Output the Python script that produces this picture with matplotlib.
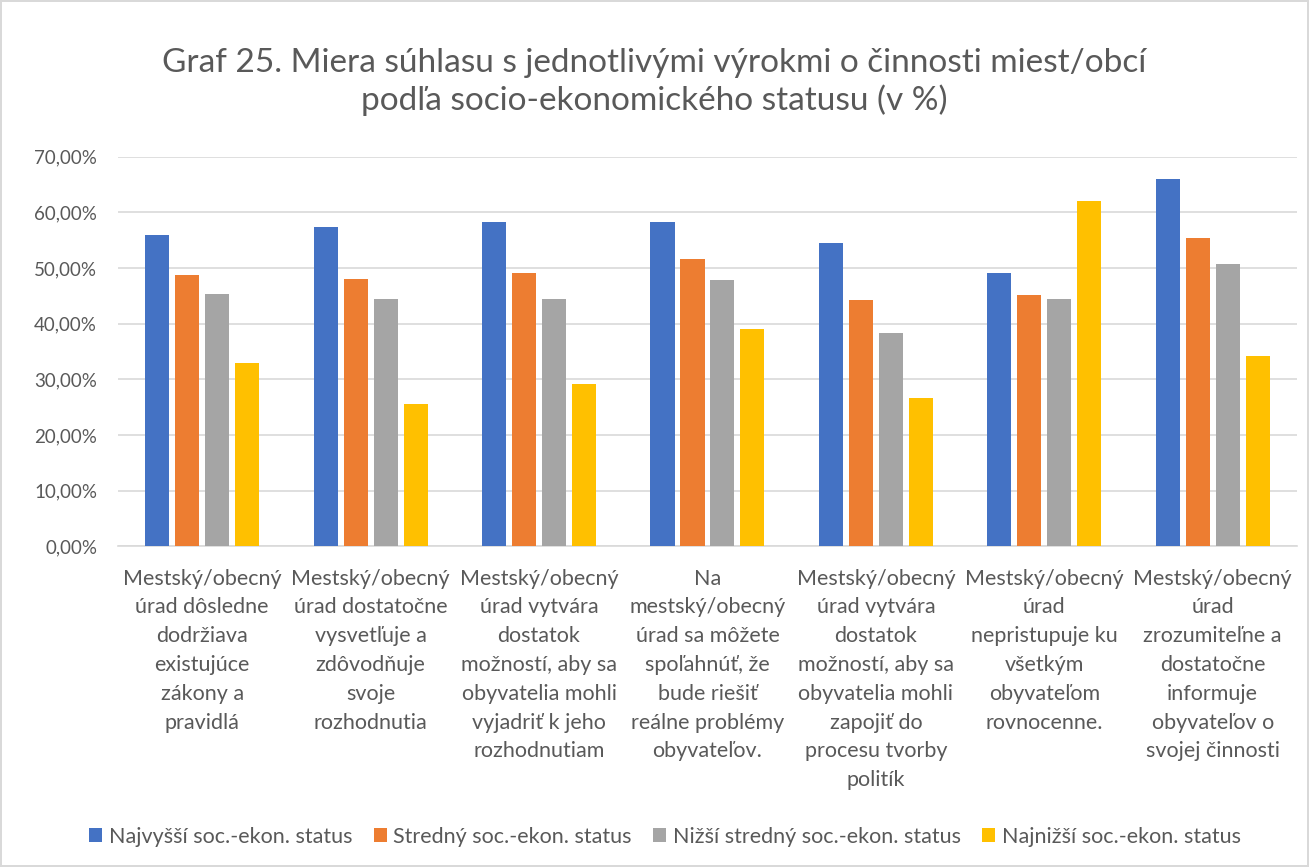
import matplotlib
matplotlib.use("Agg")
import matplotlib.pyplot as plt
import numpy as np

plt.rcParams["font.family"] = ["Lato", "DejaVu Sans"]

categories = [
    "Mestský/obecný\núrad dôsledne\ndodržiava\nexistujúce\nzákony a\npravidlá",
    "Mestský/obecný\núrad dostatočne\nvysvetľuje a\nzdôvodňuje\nsvoje\nrozhodnutia",
    "Mestský/obecný\núrad vytvára\ndostatok\nmožností, aby sa\nobyvatelia mohli\nvyjadriť k jeho\nrozhodnutiam",
    "Na\nmestský/obecný\núrad sa môžete\nspoľahnúť, že\nbude riešiť\nreálne problémy\nobyvateľov.",
    "Mestský/obecný\núrad vytvára\ndostatok\nmožností, aby sa\nobyvatelia mohli\nzapojiť do\nprocesu tvorby\npolitík",
    "Mestský/obecný\núrad\nnepristupuje ku\nvšetkým\nobyvateľom\nrovnocenne.",
    "Mestský/obecný\núrad\nzrozumiteľne a\ndostatočne\ninformuje\nobyvateľov o\nsvojej činnosti",
]

series_names = [
    "Najvyšší soc.-ekon. status",
    "Stredný soc.-ekon. status",
    "Nižší stredný soc.-ekon. status",
    "Najnižší soc.-ekon. status",
]
najvyssi = [55.9, 57.4, 58.2, 58.2, 54.4, 49.1, 66.0]
stredny = [48.7, 48.0, 49.1, 51.6, 44.2, 45.1, 55.3]
nizsi_stredny = [45.4, 44.5, 44.5, 47.8, 38.4, 44.4, 50.8]
najnizsi = [32.9, 25.5, 29.2, 39.0, 26.7, 62.1, 34.1]
colors = ["#4472C4", "#ED7D31", "#A5A5A5", "#FFC000"]

fig = plt.figure(figsize=(13.09, 8.67), dpi=100)
fig.patch.set_edgecolor("#D9D9D9")
fig.patch.set_linewidth(1.5)
ax = fig.add_axes([0.0901, 0.3699, 0.9007, 0.4494])

x = np.arange(len(categories))
step = 0.178
width = 0.143
all_series = [najvyssi, stredny, nizsi_stredny, najnizsi]
handles = []
for i, (vals, name, col) in enumerate(zip(all_series, series_names, colors)):
    b = ax.bar(x + (i - 1.5) * step, vals, width=width, color=col, label=name, zorder=3)
    handles.append(b)

ax.set_xlim(-0.5, len(categories) - 0.5)
ax.set_ylim(0, 70)
ax.set_yticks(np.arange(0, 71, 10))
ax.set_yticklabels([f"{v:.2f}%".replace(".", ",") for v in np.arange(0, 71, 10)],
                   fontsize=13.5, color="#595959")
ax.set_xticks(x)
ax.set_xticklabels(categories, fontsize=15.5, color="#595959", linespacing=1.55, va="top")
ax.tick_params(axis="x", length=0, pad=16)
ax.tick_params(axis="y", length=0, pad=15)
ax.grid(axis="y", color="#D9D9D9", linewidth=1.2, zorder=0)
for s in ["top", "right", "left"]:
    ax.spines[s].set_visible(False)
ax.spines["bottom"].set_color("#D9D9D9")
ax.spines["bottom"].set_linewidth(1.2)

fig.text(0.5, 0.9054, "Graf 25. Miera súhlasu s jednotlivými výrokmi o činnosti miest/obcí\npodľa socio-ekonomického statusu (v %)",
         ha="center", va="center", fontsize=24, color="#595959", linespacing=1.25)

fig.legend(handles=handles, labels=series_names, loc="center", bbox_to_anchor=(0.508, 0.035),
           ncol=4, frameon=False, fontsize=15.5, handlelength=0.6, handleheight=0.6,
           handletextpad=0.3, columnspacing=1.0, labelcolor="#595959")

fig.savefig("out.png", dpi=100)
